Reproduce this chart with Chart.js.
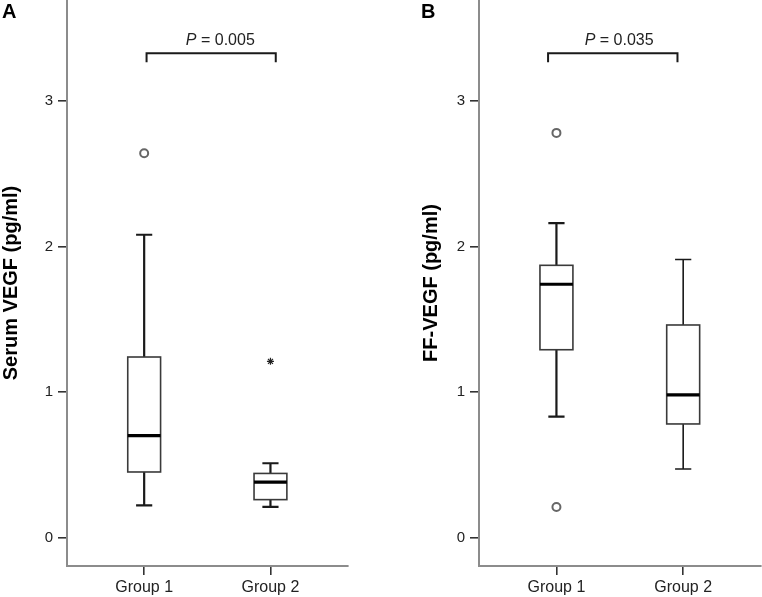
<!DOCTYPE html>
<html>
<head>
<meta charset="utf-8">
<script src="https://cdn.jsdelivr.net/npm/chart.js@4.4.1/dist/chart.umd.min.js"></script>
<style>
  body { margin: 0; background: #fff; }
  .panel { position: absolute; top: 0; }
</style>
</head>
<body>
<div class="panel" style="left:0"><canvas id="chartA" width="381" height="597"></canvas></div>
<div class="panel" style="left:381px"><canvas id="chartB" width="381" height="597"></canvas></div>
<script>
// categories and their positions on the x axis
const groups = ['Group 1', 'Group 2'];
const groupPos = [1, 2];
const yTicks = [0, 1, 2, 3];

// Panel A - serum VEGF (pg/ml)
const serumLow = [0.22, 0.21];
const serumQ1 = [0.45, 0.26];
const serumMedian = [0.70, 0.38];
const serumQ3 = [1.24, 0.44];
const serumHigh = [2.08, 0.51];
const serumOutliers = [[2.64], []];
const serumExtremes = [[], [1.21]];
const serumP = '0.005';

// Panel B - FF-VEGF (pg/ml)
const ffLow = [0.83, 0.47];
const ffQ1 = [1.29, 0.78];
const ffMedian = [1.74, 0.98];
const ffQ3 = [1.87, 1.46];
const ffHigh = [2.16, 1.91];
const ffOutliers = [[2.78, 0.21], []];
const ffExtremes = [[], []];
const ffP = '0.035';

const FONT = "'Liberation Sans', Arial, Helvetica, sans-serif";

function toPoints(lists) {
    const pts = [];
    lists.forEach((vals, i) => vals.forEach(v => pts.push({ x: groupPos[i], y: v })));
    return pts;
}

// draws boxes + whiskers using the chart scales
function boxPlugin(low, q1, med, q3, high, whiskerWidths) {
    return {
        id: 'boxPlot',
        beforeDatasetsDraw(chart) {
            const { ctx, scales: { x, y } } = chart;
            ctx.save();
            groupPos.forEach((g, i) => {
                const cx = x.getPixelForValue(g);
                const half = x.getPixelForValue(g + 0.13) - cx;
                const cap = x.getPixelForValue(g + 0.064) - cx;
                const yLo = y.getPixelForValue(low[i]);
                const yQ1 = y.getPixelForValue(q1[i]);
                const yMed = y.getPixelForValue(med[i]);
                const yQ3 = y.getPixelForValue(q3[i]);
                const yHi = y.getPixelForValue(high[i]);

                // whiskers
                ctx.strokeStyle = '#1a1a1a';
                ctx.lineWidth = whiskerWidths[i];
                ctx.beginPath();
                ctx.moveTo(cx, yQ1); ctx.lineTo(cx, yLo);
                ctx.moveTo(cx - cap, yLo); ctx.lineTo(cx + cap, yLo);
                ctx.moveTo(cx, yQ3); ctx.lineTo(cx, yHi);
                ctx.moveTo(cx - cap, yHi); ctx.lineTo(cx + cap, yHi);
                ctx.stroke();

                // box
                ctx.fillStyle = '#fff';
                ctx.fillRect(cx - half, yQ3, half * 2, yQ1 - yQ3);
                ctx.strokeStyle = '#3a3a3a';
                ctx.lineWidth = 1.6;
                ctx.strokeRect(cx - half, yQ3, half * 2, yQ1 - yQ3);

                // median
                ctx.strokeStyle = '#000';
                ctx.lineWidth = 3.2;
                ctx.beginPath();
                ctx.moveTo(cx - half, yMed); ctx.lineTo(cx + half, yMed);
                ctx.stroke();
            });
            ctx.restore();
        }
    };
}

// panel letter and significance bracket
function notePlugin(letter, letterX, pValue, x0, x1, textX) {
    return {
        id: 'notes',
        afterDraw(chart) {
            const { ctx, scales: { x, y } } = chart;
            ctx.save();
            ctx.fillStyle = '#000';
            ctx.font = 'bold 20px ' + FONT;
            ctx.textBaseline = 'top';
            ctx.textAlign = 'left';
            ctx.fillText(letter, letterX, 2);

            const left = x.getPixelForValue(x0);
            const right = x.getPixelForValue(x1);
            const top = y.getPixelForValue(3.327);
            const foot = y.getPixelForValue(3.266);
            ctx.strokeStyle = '#1a1a1a';
            ctx.lineWidth = 2;
            ctx.beginPath();
            ctx.moveTo(left, foot); ctx.lineTo(left, top);
            ctx.lineTo(right, top); ctx.lineTo(right, foot);
            ctx.stroke();

            const tx = x.getPixelForValue(textX);
            const ty = y.getPixelForValue(3.384);
            ctx.fillStyle = '#222';
            ctx.textBaseline = 'alphabetic';
            ctx.font = 'italic 16px ' + FONT;
            ctx.fillText('P', tx, ty);
            const pw = ctx.measureText('P').width;
            ctx.font = '16px ' + FONT;
            ctx.fillText(' = ' + pValue, tx + pw, ty);
            ctx.restore();
        }
    };
}

function makeChart(id, opts) {
    new Chart(document.getElementById(id), {
        type: 'scatter',
        data: {
            datasets: [{
                data: toPoints(opts.outliers),
                pointStyle: 'circle',
                pointRadius: 4,
                borderWidth: 2,
                borderColor: '#666',
                backgroundColor: '#fff'
            }, {
                data: toPoints(opts.extremes),
                pointStyle: 'star',
                pointRadius: 3.5,
                borderWidth: 1.2,
                borderColor: '#222',
                backgroundColor: '#222'
            }]
        },
        options: {
            responsive: false,
            animation: false,
            devicePixelRatio: 1,
            layout: { autoPadding: false, padding: { left: opts.padLeft, right: opts.padRight, top: 0, bottom: 0 } },
            plugins: { legend: { display: false }, tooltip: { enabled: false } },
            scales: {
                x: {
                    type: 'linear',
                    min: 0.389,
                    max: 2.614,
                    afterBuildTicks: s => { s.ticks = groupPos.map(v => ({ value: v })); },
                    afterFit: s => { s.height = 31; s.paddingLeft = 0; s.paddingRight = 0; },
                    border: { display: true, color: '#8c8c8c', width: 2 },
                    grid: { drawOnChartArea: false, drawTicks: true, tickLength: 9, color: '#333', lineWidth: 1.6 },
                    ticks: {
                        padding: 3,
                        color: '#222',
                        font: { family: FONT, size: 16 },
                        callback: v => groups[groupPos.indexOf(v)]
                    }
                },
                y: {
                    type: 'linear',
                    min: -0.196,
                    max: 3.693,
                    afterBuildTicks: s => { s.ticks = yTicks.map(v => ({ value: v })); },
                    afterFit: s => { s.width = opts.axisWidth; s.paddingTop = 0; s.paddingBottom = 0; },
                    border: { display: true, color: '#8c8c8c', width: 2 },
                    grid: { drawOnChartArea: false, drawTicks: true, tickLength: 9, color: '#333', lineWidth: 1.6 },
                    ticks: {
                        padding: 5,
                        color: '#222',
                        font: { family: FONT, size: 15 },
                        callback: v => String(v)
                    },
                    title: {
                        display: true,
                        text: opts.title,
                        color: '#000',
                        padding: { top: 1, bottom: 0 },
                        font: { family: FONT, size: 20, weight: 'bold', lineHeight: 1 }
                    }
                }
            }
        },
        plugins: [
            boxPlugin(opts.low, opts.q1, opts.med, opts.q3, opts.high, opts.whiskers),
            notePlugin(opts.letter, opts.letterX, opts.p, opts.bx0, opts.bx1, opts.tx)
        ]
    });
}

makeChart('chartA', {
    title: 'Serum VEGF (pg/ml)', letter: 'A', letterX: 2, p: serumP,
    low: serumLow, q1: serumQ1, med: serumMedian, q3: serumQ3, high: serumHigh,
    outliers: serumOutliers, extremes: serumExtremes, whiskers: [2.2, 2.2],
    padLeft: 0, padRight: 33, axisWidth: 67,
    bx0: 1.019, bx1: 2.042, tx: 1.33
});

makeChart('chartB', {
    title: 'FF-VEGF (pg/ml)', letter: 'B', letterX: 40, p: ffP,
    low: ffLow, q1: ffQ1, med: ffMedian, q3: ffQ3, high: ffHigh,
    outliers: ffOutliers, extremes: ffExtremes, whiskers: [2.2, 1.6],
    padLeft: 39, padRight: 1, axisWidth: 59,
    bx0: 0.934, bx1: 1.955, tx: 1.223
});
</script>
</body>
</html>
